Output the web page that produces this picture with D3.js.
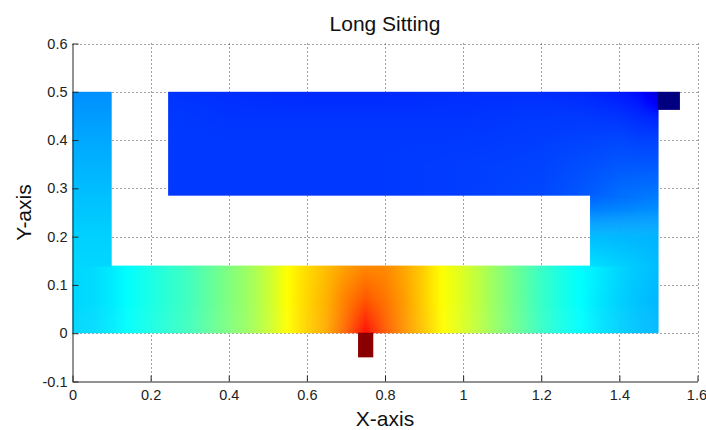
<!DOCTYPE html>
<html>
<head>
<meta charset="utf-8">
<script src="https://cdn.jsdelivr.net/npm/d3@7"></script>
<style>
  body { margin: 0; background: #fff; }
  svg text { font-family: "Liberation Sans", Arial, Helvetica, sans-serif; }
</style>
</head>
<body>
<div id="plot"></div>
<script>
// tick values
const xTicks = [0, 0.2, 0.4, 0.6, 0.8, 1, 1.2, 1.4, 1.6];
const yTicks = [-0.1, 0, 0.1, 0.2, 0.3, 0.4, 0.5, 0.6];

// bottom bar (y 0 .. 0.14), values read along x at three heights
const barX = [0, 0.05, 0.1, 0.15, 0.2, 0.25, 0.3, 0.35, 0.4, 0.45, 0.5, 0.55, 0.6, 0.65, 0.7, 0.75,
              0.8, 0.85, 0.9, 0.95, 1, 1.05, 1.1, 1.15, 1.2, 1.25, 1.3, 1.35, 1.4, 1.45, 1.5];
const barY = [0, 0.07, 0.14];
const barBottom = [0.335, 0.34, 0.355, 0.38, 0.4, 0.42, 0.44, 0.47, 0.5, 0.53, 0.57, 0.625, 0.67, 0.71, 0.78, 0.87,
                   0.79, 0.73, 0.68, 0.625, 0.59, 0.55, 0.51, 0.47, 0.43, 0.4, 0.375, 0.35, 0.33, 0.315, 0.305];
const barMid = [0.335, 0.34, 0.355, 0.38, 0.4, 0.42, 0.44, 0.47, 0.5, 0.53, 0.57, 0.625, 0.665, 0.7, 0.75, 0.79,
                0.76, 0.72, 0.67, 0.62, 0.59, 0.55, 0.51, 0.47, 0.43, 0.4, 0.375, 0.35, 0.33, 0.315, 0.305];
const barTop = [0.335, 0.34, 0.355, 0.38, 0.4, 0.42, 0.44, 0.47, 0.5, 0.53, 0.57, 0.625, 0.66, 0.69, 0.72, 0.74,
                0.74, 0.71, 0.67, 0.62, 0.59, 0.55, 0.51, 0.47, 0.43, 0.4, 0.375, 0.355, 0.335, 0.32, 0.31];

// left column (x 0 .. 0.1)
const leftX = [0, 0.1];
const leftY = [0.14, 0.2, 0.3, 0.4, 0.5];
const leftV = [0.335, 0.33, 0.31, 0.29, 0.265];

// right column below the top block (x 1.325 .. 1.5)
const rightX = [1.325, 1.5];
const rightY = [0.14, 0.2, 0.25, 0.285];
const rightInner = [0.345, 0.31, 0.255, 0.22];
const rightOuter = [0.31, 0.3, 0.27, 0.245];

// top block (y 0.285 .. 0.5)
const topX = [0.245, 0.4, 0.6, 0.8, 1, 1.2, 1.3, 1.4, 1.45, 1.5];
const topY = [0.285, 0.35, 0.4, 0.45, 0.5];
const topRows = [
  [0.18, 0.18, 0.18, 0.18, 0.185, 0.195, 0.21, 0.235, 0.24, 0.245],
  [0.18, 0.18, 0.18, 0.18, 0.185, 0.19, 0.2, 0.21, 0.21, 0.21],
  [0.18, 0.18, 0.18, 0.18, 0.18, 0.185, 0.19, 0.195, 0.19, 0.19],
  [0.18, 0.175, 0.175, 0.175, 0.175, 0.18, 0.18, 0.175, 0.165, 0.155],
  [0.175, 0.17, 0.165, 0.165, 0.17, 0.17, 0.165, 0.15, 0.135, 0.08]
];

// small notch (top right) and heat source stub (bottom)
const notchX = [1.5, 1.555];
const notchY = [0.4625, 0.5];
const notchV = 0.0;
const stubX = [0.731, 0.77];
const stubY = [-0.05, 0];
const stubV = 0.99;

const width = 706, height = 430;
const margin = { top: 43.5, right: 8.5, bottom: 48.5, left: 72.5 };

const svg = d3.select("#plot").append("svg")
    .attr("width", width)
    .attr("height", height);

const x = d3.scaleLinear().domain([0, 1.6]).range([margin.left, width - margin.right]);
const y = d3.scaleLinear().domain([-0.1, 0.6]).range([height - margin.bottom, margin.top]);

// jet colormap
const jet = d3.scaleLinear()
    .domain([0, 0.125, 0.375, 0.625, 0.875, 1])
    .range(["#000080", "#0000ff", "#00ffff", "#ffff00", "#ff0000", "#800000"])
    .clamp(true);

// grid lines (behind the field)
const grid = svg.append("g").attr("stroke", "#444").attr("stroke-dasharray", "1,3").attr("stroke-width", 1);
grid.selectAll(".gx").data(xTicks.slice(1)).enter().append("line")
    .attr("x1", d => Math.round(x(d)) + 0.5).attr("x2", d => Math.round(x(d)) + 0.5)
    .attr("y1", y(0.6)).attr("y2", y(-0.1));
grid.selectAll(".gy").data(yTicks.slice(1)).enter().append("line")
    .attr("y1", d => Math.round(y(d)) + 0.5).attr("y2", d => Math.round(y(d)) + 0.5)
    .attr("x1", x(0)).attr("x2", x(1.6));

const defs = svg.append("defs");
const field = svg.append("g");
let gid = 0;

// draws a rectangular patch whose values sit on a grid (rows = ys, cols = xs)
// bleedTop / bleedBottom stretch the outer strips so neighbouring patches meet without a seam
function drawPatch(xs, ys, rows, bleedTop = 0, bleedBottom = 0) {
    const yTop = y(ys[ys.length - 1]), yBot = y(ys[0]);
    const n = Math.max(1, Math.ceil(yBot - yTop));
    const h = (yBot - yTop) / n;
    for (let k = 0; k < n; k++) {
        const yy = yTop + (k + 0.5) * h;
        const v = y.invert(yy);
        let j = 0;
        while (j < ys.length - 2 && v > ys[j + 1]) j++;
        const t = ys.length > 1 ? Math.max(0, Math.min(1, (v - ys[j]) / (ys[j + 1] - ys[j]))) : 0;
        const row = xs.map((_, i) => rows[j][i] * (1 - t) + rows[Math.min(j + 1, rows.length - 1)][i] * t);

        const id = "g" + (gid++);
        const grad = defs.append("linearGradient")
            .attr("id", id)
            .attr("gradientUnits", "userSpaceOnUse")
            .attr("x1", x(xs[0])).attr("x2", x(xs[xs.length - 1]))
            .attr("y1", 0).attr("y2", 0);
        const span = xs[xs.length - 1] - xs[0];
        const stops = [];
        for (let i = 0; i < xs.length - 1; i++) {
            for (let s = 0; s < 4; s++) {
                const f = s / 4;
                stops.push({ o: (xs[i] + f * (xs[i + 1] - xs[i]) - xs[0]) / span, v: row[i] * (1 - f) + row[i + 1] * f });
            }
        }
        stops.push({ o: 1, v: row[row.length - 1] });
        grad.selectAll("stop").data(stops).enter().append("stop")
            .attr("offset", d => d.o)
            .attr("stop-color", d => jet(d.v));

        let y0 = yTop + k * h;
        let hh = k === n - 1 ? h + bleedBottom : h + 0.6;
        if (k === 0) { y0 -= bleedTop; hh += bleedTop; }
        field.append("rect")
            .attr("x", x(xs[0]))
            .attr("width", x(xs[xs.length - 1]) - x(xs[0]))
            .attr("y", y0)
            .attr("height", hh)
            .attr("fill", `url(#${id})`);
    }
}

drawPatch(barX, barY, [barBottom, barMid, barTop]);
drawPatch(leftX, leftY, leftV.map(v => [v, v]), 0, 1);
drawPatch(rightX, rightY, rightInner.map((v, i) => [v, rightOuter[i]]), 1.2, 1);
drawPatch(topX, topY, topRows);

// notch and stub are flat colours
field.append("rect")
    .attr("x", x(notchX[0]) - 0.5).attr("width", x(notchX[1]) - x(notchX[0]) + 0.5)
    .attr("y", y(notchY[1])).attr("height", y(notchY[0]) - y(notchY[1]))
    .attr("fill", jet(notchV));
field.append("rect")
    .attr("x", x(stubX[0])).attr("width", x(stubX[1]) - x(stubX[0]))
    .attr("y", y(stubY[1]) - 0.5).attr("height", y(stubY[0]) - y(stubY[1]) + 0.5)
    .attr("fill", jet(stubV));

// axes
const fmt = d => String(+d.toFixed(1));
const xAxis = svg.append("g")
    .attr("transform", `translate(0,${y(-0.1)})`)
    .call(d3.axisBottom(x).tickValues(xTicks).tickFormat(fmt).tickSizeInner(-6).tickSizeOuter(0).tickPadding(8));
const yAxis = svg.append("g")
    .attr("transform", `translate(${x(0)},0)`)
    .call(d3.axisLeft(y).tickValues(yTicks).tickFormat(fmt).tickSizeInner(-6).tickSizeOuter(0).tickPadding(5));

[xAxis, yAxis].forEach(a => {
    a.select(".domain").attr("stroke", "#262626");
    a.selectAll(".tick line").attr("stroke", "#262626");
    a.selectAll(".tick text")
        .attr("fill", "#222")
        .style("font-size", "14.5px")
        .style("font-family", "'Liberation Sans', Arial, sans-serif");
});
// last x label sits at the window edge, keep it inside
xAxis.selectAll(".tick text").filter(d => d === 1.6).attr("text-anchor", "end").attr("x", 9);

// titles
svg.append("text")
    .attr("x", (x(0) + x(1.6)) / 2)
    .attr("y", 31)
    .attr("text-anchor", "middle")
    .style("font-size", "21px")
    .attr("fill", "#111")
    .text("Long Sitting");

svg.append("text")
    .attr("x", (x(0) + x(1.6)) / 2)
    .attr("y", 426)
    .attr("text-anchor", "middle")
    .style("font-size", "21px")
    .attr("fill", "#111")
    .text("X-axis");

svg.append("text")
    .attr("transform", `translate(31,${(y(-0.1) + y(0.6)) / 2}) rotate(-90)`)
    .attr("text-anchor", "middle")
    .style("font-size", "21px")
    .attr("fill", "#111")
    .text("Y-axis");
</script>
</body>
</html>
